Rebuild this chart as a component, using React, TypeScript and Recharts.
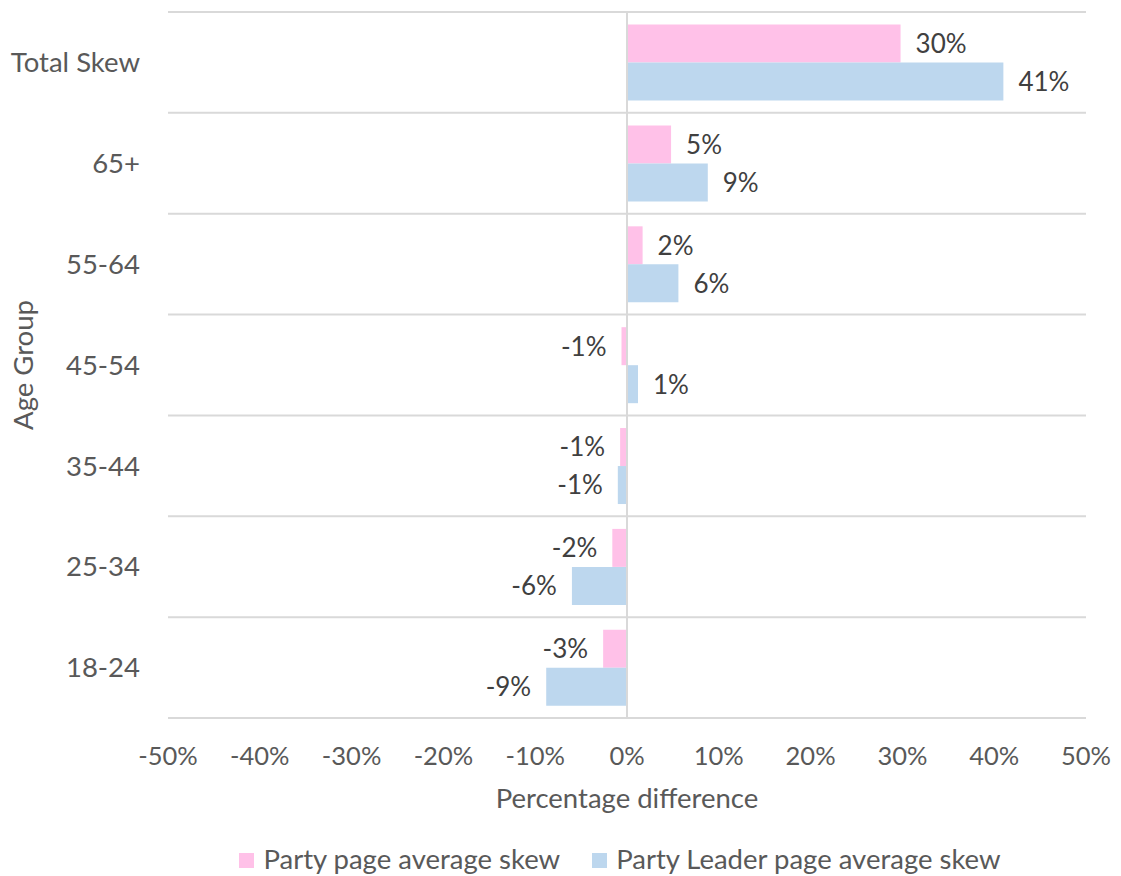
import {
  Bar,
  BarChart,
  CartesianGrid,
  LabelList,
  Legend,
  ReferenceLine,
  XAxis,
  YAxis,
} from "recharts";

const ageGroups = ["Total Skew", "65+", "55-64", "45-54", "35-44", "25-34", "18-24"];
const partyPageSkew = [29.8, 4.8, 1.7, -0.6, -0.75, -1.6, -2.6];
const partyLeaderPageSkew = [41.0, 8.8, 5.6, 1.2, -1.0, -6.0, -8.8];
const xTicks = [-50, -40, -30, -20, -10, 0, 10, 20, 30, 40, 50];
const seriesNames = ["Party page average skew", "Party Leader page average skew"];

const PARTY_COLOR = "#FFC1E8";
const LEADER_COLOR = "#BDD7EE";
const AXIS_TEXT = "#595959";
const LABEL_TEXT = "#404040";
const GRID = "#D9D9D9";
const FONT = "Lato, 'Open Sans', sans-serif";
const NUM_SIZE = 25.5;
const TEXT_SIZE = 27.5;

const data = ageGroups.map((group, i) => ({
  group,
  party: partyPageSkew[i],
  leader: partyLeaderPageSkew[i],
}));

const formatPct = (v: number) => `${Number(v).toFixed(0)}%`;

// value label sits just past the bar's outer end, on either side of zero
const ValueLabel = (props: any) => {
  const { x, y, width, height } = props.viewBox ?? props;
  const value = Number(props.value);
  const left = Math.min(x, x + width);
  const right = Math.max(x, x + width);
  const neg = value < 0;
  return (
    <text
      x={neg ? left - 15 : right + 15}
      y={y + height / 2}
      dy="0.36em"
      textAnchor={neg ? "end" : "start"}
      fill={LABEL_TEXT}
      fontSize={26}
      fontFamily={FONT}
    >
      {formatPct(value)}
    </text>
  );
};

const YTitle = (props: any) => {
  const { x, y, height } = props.viewBox;
  const cx = x + 33;
  const cy = y + height / 2;
  return (
    <text
      x={cx}
      y={cy}
      transform={`rotate(-90, ${cx}, ${cy})`}
      textAnchor="middle"
      fill={AXIS_TEXT}
      fontSize={TEXT_SIZE}
      fontFamily={FONT}
    >
      Age Group
    </text>
  );
};

const XTitle = (props: any) => {
  const { x, y, width } = props.viewBox;
  return (
    <text
      x={x + width / 2}
      y={y + 90}
      textAnchor="middle"
      fill={AXIS_TEXT}
      fontSize={TEXT_SIZE}
      fontFamily={FONT}
    >
      Percentage difference
    </text>
  );
};

const LegendContent = (props: any) => {
  const items = [...(props.payload ?? [])].sort(
    (a: any, b: any) => seriesNames.indexOf(a.value) - seriesNames.indexOf(b.value)
  );
  return (
    <div
      style={{
        display: "flex",
        justifyContent: "center",
        fontFamily: FONT,
        fontSize: TEXT_SIZE,
        lineHeight: "32px",
        color: AXIS_TEXT,
        whiteSpace: "nowrap",
      }}
    >
      {items.map((entry: any, i: number) => (
        <div
          key={entry.value}
          style={{ display: "flex", alignItems: "center", marginRight: i < items.length - 1 ? 32 : 0 }}
        >
          <span
            style={{
              display: "inline-block",
              width: 15,
              height: 15,
              marginTop: 3,
              marginRight: 9,
              background: entry.color,
            }}
          />
          <span>{entry.value}</span>
        </div>
      ))}
    </div>
  );
};

export default function App() {
  const nBands = ageGroups.length;
  return (
    <div style={{ width: 1121, height: 876, overflow: "hidden" }}>
      <style>{`body { margin: 0; }`}</style>
      <BarChart
        width={1121}
        height={876}
        data={data}
        layout="vertical"
        margin={{ top: 12, right: 35, bottom: 58, left: 0 }}
        barCategoryGap="12.5%"
        barGap={0}
        style={{ fontFamily: FONT }}
      >
        <CartesianGrid
          vertical={false}
          stroke={GRID}
          strokeWidth={2}
          horizontalCoordinatesGenerator={({ offset }: any) =>
            Array.from({ length: nBands + 1 }, (_, i) => offset.top + (i * offset.height) / nBands)
          }
        />
        <XAxis
          type="number"
          domain={[-50, 50]}
          ticks={xTicks}
          tickFormatter={formatPct}
          axisLine={false}
          tickLine={false}
          tickMargin={23}
          height={100}
          tick={{ fill: AXIS_TEXT, fontSize: NUM_SIZE, fontFamily: FONT }}
          interval={0}
          label={{ content: XTitle }}
        />
        <YAxis
          type="category"
          dataKey="group"
          width={168}
          axisLine={false}
          tickLine={false}
          tickMargin={22}
          tick={{ fill: AXIS_TEXT, fontSize: TEXT_SIZE, fontFamily: FONT }}
          interval={0}
          label={{ content: YTitle }}
        />
        <Bar dataKey="party" name={seriesNames[0]} fill={PARTY_COLOR} isAnimationActive={false}>
          <LabelList dataKey="party" content={ValueLabel} />
        </Bar>
        <Bar dataKey="leader" name={seriesNames[1]} fill={LEADER_COLOR} isAnimationActive={false}>
          <LabelList dataKey="leader" content={ValueLabel} />
        </Bar>
        <ReferenceLine x={0} stroke={GRID} strokeWidth={2} />
        <Legend
          layout="horizontal"
          verticalAlign="middle"
          align="center"
          content={LegendContent}
          wrapperStyle={{ top: 843, left: 120, width: 1000 }}
        />
      </BarChart>
    </div>
  );
}
